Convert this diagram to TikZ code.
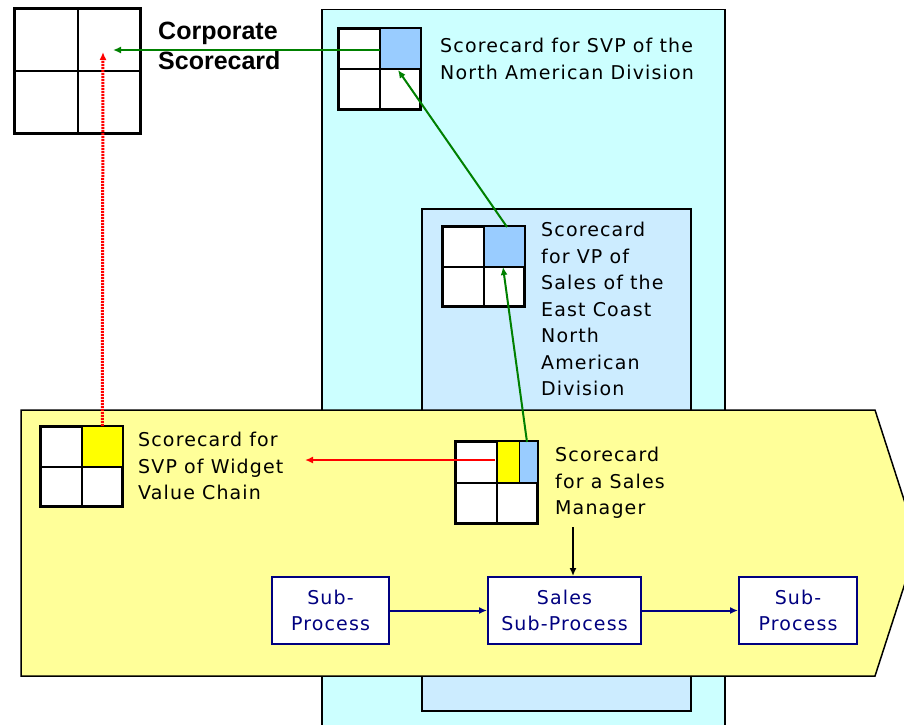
\documentclass[tikz,border=0pt]{standalone}
\usepackage{fontspec}
\setmainfont{DejaVu Sans}
\newfontfamily\cardfont[LetterSpace=6]{DejaVu Sans}
\newfontfamily\headfont{Liberation Sans}
\usetikzlibrary{arrows.meta,calc}

\definecolor{outercyan}{HTML}{CCFFFF}
\definecolor{innerblue}{HTML}{CCECFF}
\definecolor{chainyellow}{HTML}{FFFF99}
\definecolor{cellblue}{HTML}{99CCFF}
\definecolor{cellyellow}{HTML}{FFFF00}
\definecolor{linkgreen}{HTML}{008000}
\definecolor{procnavy}{HTML}{000080}

\tikzset{
	card/.style={draw, line width=2pt, fill=white, inner sep=0pt, minimum width=81pt, minimum height=80pt},
	cardline/.style={line width=2pt},
	cardtext/.style={anchor=north west, align=left, inner sep=0pt, font=\cardfont\fontsize{19}{26.5}\selectfont},
	proc/.style={draw=procnavy, line width=2pt, fill=white, text=procnavy, align=center, inner sep=0pt, minimum height=67pt, font=\cardfont\fontsize{19}{26}\selectfont},
	greenlink/.style={linkgreen, line width=2pt, -{Latex[length=8pt,width=7pt]}},
	redlink/.style={red, line width=2pt, -{Latex[length=8pt,width=7pt]}},
	proclink/.style={procnavy, line width=2pt, -{Latex[length=8pt,width=7pt]}}
}

\begin{document}
\begin{tikzpicture}[x=1pt, y=-1pt]
	\useasboundingbox (0,0) rectangle (904,726);
	% divisions
	\draw[fill=outercyan, line width=1.5pt] (322,724.5) -- (322,9.5) -- (725,9.5) -- (725,724.5);
	\draw[fill=innerblue, line width=1.5pt] (422,711) rectangle (691,209);
	\draw[fill=chainyellow, line width=1.5pt] (21,410) -- (875,410) -- (918,543) -- (875,676) -- (21,676) -- cycle;

	% scorecards
	\node[card, minimum width=125pt, minimum height=124pt] (corp) at (77.5,71) {};
	\node[card] (svp) at (379.5,69) {};
	\node[card, minimum height=79pt] (vp) at (483.5,266.5) {};
	\node[card, minimum height=79pt] (widget) at (81.5,466.5) {};
	\node[card, minimum height=81pt] (mgr) at (496.5,482.5) {};
	\fill[cellblue] (svp.center) rectangle (svp.north east);
	\fill[cellblue] (vp.center) rectangle (vp.north east);
	\fill[cellyellow] (widget.center) rectangle (widget.north east);
	\fill[cellyellow] (mgr.center) rectangle ($(mgr.north)+(23,0)$);
	\fill[cellblue] ($(mgr.center)+(23,0)$) rectangle (mgr.north east);
	\foreach \c in {corp,svp,vp,widget,mgr}
		\draw[cardline] (\c.north west) rectangle (\c.south east) (\c.north) -- (\c.south) (\c.west) -- (\c.east);
	\draw[line width=1pt] ($(mgr.north)+(23,0)$) -- ($(mgr.center)+(23,0)$);

	% labels
	\node[anchor=north west, align=left, inner sep=0pt, font=\headfont\bfseries\fontsize{25}{30}\selectfont] (corptext) at (158,22) {Corporate\\Scorecard};
	\node[cardtext] (svptext) at (440,38) {Scorecard for SVP of the\\North American Division};
	\node[cardtext] (vptext) at (541,222) {Scorecard\\for VP of\\Sales of the\\East Coast\\North\\American\\Division};
	\node[cardtext] (widgettext) at (138,432) {Scorecard for\\SVP of Widget\\Value Chain};
	\node[cardtext] (mgrtext) at (555,447) {Scorecard\\for a Sales\\Manager};

	% sub-processes
	\node[proc, minimum width=117pt] (sp1) at (330.5,610.5) {Sub-\\Process};
	\node[proc, minimum width=153pt] (sp2) at (564.5,610.5) {Sales\\Sub-Process};
	\node[proc, minimum width=118pt] (sp3) at (798,610.5) {Sub-\\Process};

	% roll-up links
	\coordinate (corpin) at (113,50);
	\coordinate (corpred) at (103,52);
	\coordinate (svpin) at (398,70);
	\coordinate (vpout) at (507,227);
	\coordinate (vpin) at (503,267);
	\coordinate (mgrout) at (527,442);
	\coordinate (mgrleft) at (495,460);
	\coordinate (widgetin) at (305,460);
	\coordinate (mgrdown) at (573,527);
	\draw[greenlink] (svp.center |- corpin) -- (corpin);
	\draw[greenlink] (vpout) -- (svpin);
	\draw[greenlink] (mgrout) -- (vpin);
	\draw[redlink] (mgrleft) -- (widgetin);
	\draw[redlink, line width=3pt, dash pattern=on 2pt off 1pt] ($(widget.north)!0.5!(widget.north east)$) -- (corpred);
	\draw[line width=2pt, -{Latex[length=8pt,width=7pt]}] (mgrdown) -- (mgrdown |- sp2.north);
	\draw[proclink] (sp1) -- (sp2);
	\draw[proclink] (sp2) -- (sp3);
\end{tikzpicture}
\end{document}
